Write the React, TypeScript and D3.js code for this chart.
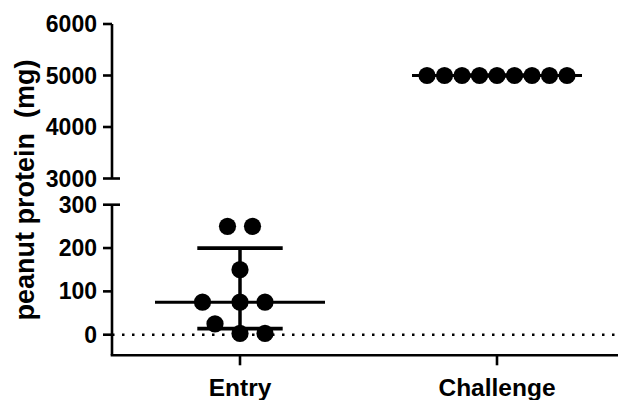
import React from 'react';
import * as d3 from 'd3';

// values (mg peanut protein)
const categories = ['Entry', 'Challenge'];
const entryValues = [250, 250, 150, 75, 75, 75, 25, 3, 3];
const entrySlots = [-1, 1, 0, -3, 0, 2, -2, 0, 2];
const challengeValues = [5000, 5000, 5000, 5000, 5000, 5000, 5000, 5000, 5000];
const challengeSlots = [-4, -3, -2, -1, 0, 1, 2, 3, 4];
const upperTicks = [3000, 4000, 5000, 6000];
const lowerTicks = [0, 100, 200, 300];

const W = 622;
const H = 400;
const axisX = 112;
const rightEnd = 618;
const xAxisY = 355.3;
const font = "'Liberation Sans', Arial, Helvetica, sans-serif";

// Prism style percentile: position (n+1)p
function percentile(vals: number[], p: number) {
  const s = vals.slice().sort((a, b) => a - b);
  const pos = (s.length + 1) * p - 1;
  const lo = Math.max(0, Math.floor(pos));
  const hi = Math.min(s.length - 1, Math.ceil(pos));
  return s[lo] + (s[hi] - s[lo]) * (pos - lo);
}

export default function App() {
  const x = d3.scalePoint<string>().domain(categories).range([240, 497]);
  const yUp = d3.scaleLinear().domain([3000, 6000]).range([178.5, 24]);
  const yLow = d3.scaleLinear().domain([0, 300]).range([334.7, 204.7]);
  const y = (v: number) => (v >= 3000 ? yUp(v) : yLow(v));

  const groups = [
    { name: categories[0], values: entryValues, slots: entrySlots, spacing: 12.5 },
    { name: categories[1], values: challengeValues, slots: challengeSlots, spacing: 17.5 },
  ];

  const tickStyle = { stroke: '#000', strokeWidth: 2.6 };
  const labelStyle = { fontFamily: font, fontWeight: 700, fontSize: 23 };

  return (
    <svg width={W} height={H} style={{ position: 'absolute', left: 0, top: 0, background: '#fff' }}>
      {/* dotted zero line */}
      <line x1={axisX} x2={rightEnd} y1={yLow(0)} y2={yLow(0)} stroke="#000" strokeWidth={2.6} strokeDasharray="2.5,7.5" />

      {/* upper y axis segment */}
      <line x1={axisX} x2={axisX} y1={yUp(6000)} y2={yUp(3000)} {...tickStyle} />
      <line x1={axisX} x2={axisX + 8} y1={yUp(3000)} y2={yUp(3000)} {...tickStyle} />
      {upperTicks.map(t => (
        <g key={t}>
          <line x1={axisX - 9} x2={axisX} y1={yUp(t)} y2={yUp(t)} {...tickStyle} />
          <text x={axisX - 15} y={yUp(t)} dy="0.35em" textAnchor="end" style={labelStyle}>{t}</text>
        </g>
      ))}

      {/* lower y axis segment */}
      <line x1={axisX} x2={axisX} y1={yLow(300)} y2={xAxisY} {...tickStyle} />
      <line x1={axisX} x2={axisX + 8} y1={yLow(300)} y2={yLow(300)} {...tickStyle} />
      {lowerTicks.map(t => (
        <g key={t}>
          <line x1={axisX - 9} x2={axisX} y1={yLow(t)} y2={yLow(t)} {...tickStyle} />
          <text x={axisX - 15} y={yLow(t)} dy="0.35em" textAnchor="end" style={labelStyle}>{t}</text>
        </g>
      ))}

      {/* x axis */}
      <line x1={axisX - 1.3} x2={rightEnd} y1={xAxisY} y2={xAxisY} {...tickStyle} />
      {categories.map(c => (
        <g key={c}>
          <line x1={x(c)} x2={x(c)} y1={xAxisY} y2={xAxisY + 10} {...tickStyle} />
          <text x={x(c)} y={396} textAnchor="middle" style={{ ...labelStyle, fontSize: 24.5 }}>{c}</text>
        </g>
      ))}

      {/* y axis title */}
      <text
        transform={`translate(34,190) rotate(-90)`}
        textAnchor="middle"
        style={{ fontFamily: font, fontWeight: 700, fontSize: 27, whiteSpace: 'pre' }}
      >
        {'peanut protein  (mg)'}
      </text>

      {/* groups: points, median and interquartile range */}
      {groups.map(g => {
        const cx = x(g.name) as number;
        const med = percentile(g.values, 0.5);
        const q1 = percentile(g.values, 0.25);
        const q3 = percentile(g.values, 0.75);
        return (
          <g key={g.name}>
            <line x1={cx} x2={cx} y1={y(q1)} y2={y(q3)} stroke="#000" strokeWidth={3.5} />
            <line x1={cx - 42.7} x2={cx + 42.7} y1={y(q3)} y2={y(q3)} stroke="#000" strokeWidth={3.8} />
            <line x1={cx - 42.7} x2={cx + 42.7} y1={y(q1)} y2={y(q1)} stroke="#000" strokeWidth={3.8} />
            {g.values.map((v, i) => (
              <circle key={i} cx={cx + g.slots[i] * g.spacing} cy={y(v)} r={8.6} fill="#000" />
            ))}
            <line x1={cx - 85} x2={cx + 85} y1={y(med)} y2={y(med)} stroke="#000" strokeWidth={3} />
          </g>
        );
      })}
    </svg>
  );
}
